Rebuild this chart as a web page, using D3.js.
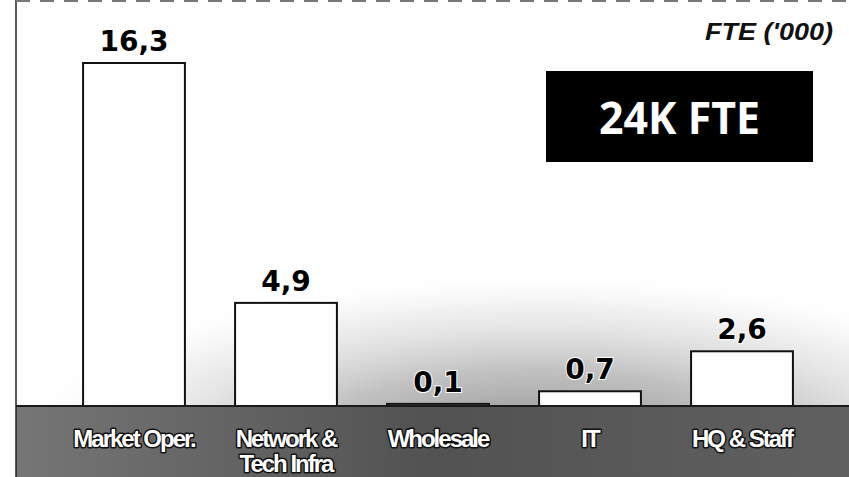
<!DOCTYPE html>
<html>
<head>
<meta charset="utf-8">
<script src="https://cdn.jsdelivr.net/npm/d3@7"></script>
<style>
  html, body { margin: 0; padding: 0; background: #fff; }
  svg { display: block; }
</style>
</head>
<body>
<svg id="chart" width="849" height="477"></svg>
<script>
// ---- data ----
const categories = ["Market Oper.", "Network & Tech Infra", "Wholesale", "IT", "HQ & Staff"];
const categoryLines = [["Market Oper."], ["Network &", "Tech Infra"], ["Wholesale"], ["IT"], ["HQ & Staff"]];
const values = [16.3, 4.9, 0.1, 0.7, 2.6];
const unitLabel = "FTE ('000)";
const totalLabel = "24K FTE";

// ---- layout ----
const W = 849, H = 477;
const baseY = 406, topY = 63;
const svg = d3.select("#chart");
const defs = svg.append("defs");

const x = d3.scaleBand().domain(categories).range([58, 818]).paddingInner(0.33).paddingOuter(0.165);
const y = d3.scaleLinear().domain([0, d3.max(values)]).range([baseY, topY]);
const fmt = v => d3.format(".1f")(v).replace(".", ",");

// scan-like grey shading (background texture approximation)
const rg = defs.append("radialGradient").attr("id", "shade")
  .attr("gradientUnits", "userSpaceOnUse").attr("cx", 540).attr("cy", 450).attr("r", 360)
  .attr("gradientTransform", "translate(540 450) scale(1.5 0.5) translate(-540 -450)");
rg.append("stop").attr("offset", "0%").attr("stop-color", "#777").attr("stop-opacity", 0.9);
rg.append("stop").attr("offset", "45%").attr("stop-color", "#999").attr("stop-opacity", 0.6);
rg.append("stop").attr("offset", "80%").attr("stop-color", "#d0d0d0").attr("stop-opacity", 0.3);
rg.append("stop").attr("offset", "100%").attr("stop-color", "#ffffff").attr("stop-opacity", 0);
svg.append("rect").attr("x", 16).attr("y", 200).attr("width", W - 16).attr("height", H - 200).attr("fill", "url(#shade)");

const lg = defs.append("linearGradient").attr("id", "strip").attr("x1", 0).attr("x2", 1).attr("y1", 0).attr("y2", 0);
lg.append("stop").attr("offset", "0%").attr("stop-color", "#767676");
lg.append("stop").attr("offset", "50%").attr("stop-color", "#525252");
lg.append("stop").attr("offset", "100%").attr("stop-color", "#606060");
svg.append("rect").attr("x", 16).attr("y", baseY).attr("width", W - 16).attr("height", H - baseY).attr("fill", "url(#strip)");

// frame lines
svg.append("line").attr("x1", 16).attr("x2", 16).attr("y1", 0).attr("y2", H)
  .attr("stroke", "#222").attr("stroke-width", 1.5);
svg.append("line").attr("x1", 16).attr("x2", W).attr("y1", 1).attr("y2", 1)
  .attr("stroke", "#777").attr("stroke-width", 2).attr("stroke-dasharray", "14,10");

// bars
svg.append("g").selectAll("rect").data(values).join("rect")
  .attr("x", (d, i) => x(categories[i]))
  .attr("y", d => y(d))
  .attr("width", x.bandwidth())
  .attr("height", d => baseY - y(d))
  .attr("fill", "#fff").attr("stroke", "#111").attr("stroke-width", 2);

// baseline
svg.append("line").attr("x1", 16).attr("x2", W).attr("y1", baseY).attr("y2", baseY)
  .attr("stroke", "#1a1a1a").attr("stroke-width", 2);

// value labels
svg.append("g").selectAll("text").data(values).join("text")
  .attr("x", (d, i) => x(categories[i]) + x.bandwidth() / 2)
  .attr("y", d => y(d) - 12)
  .attr("text-anchor", "middle")
  .attr("font-family", "'DejaVu Sans', sans-serif")
  .attr("font-weight", "bold").attr("font-size", 28)
  .attr("fill", "#000").attr("stroke", "#fff").attr("stroke-width", 2).attr("paint-order", "stroke")
  .text(d => fmt(d));

// category labels
const cat = svg.append("g").selectAll("text").data(categoryLines).join("text")
  .attr("x", (d, i) => x(categories[i]) + x.bandwidth() / 2)
  .attr("y", 447)
  .attr("text-anchor", "middle")
  .attr("font-family", "'Liberation Sans', sans-serif")
  .attr("letter-spacing", -2)
  .attr("font-weight", "bold").attr("font-size", 24)
  .attr("fill", "#fff").attr("stroke", "#111").attr("stroke-width", 3).attr("paint-order", "stroke")
  .attr("stroke-linejoin", "round");
cat.selectAll("tspan").data(d => d).join("tspan")
  .attr("x", function() { return d3.select(this.parentNode).attr("x"); })
  .attr("dy", (d, j) => j === 0 ? 0 : 25)
  .text(d => d);

// unit label
svg.append("text").attr("x", 833).attr("y", 40).attr("text-anchor", "end")
  .attr("font-family", "'Liberation Sans', sans-serif")
  .attr("font-style", "italic").attr("font-weight", "bold").attr("font-size", 24)
  .attr("textLength", 128).attr("lengthAdjust", "spacingAndGlyphs")
  .attr("fill", "#111").text(unitLabel);

// total box
svg.append("rect").attr("x", 546).attr("y", 71).attr("width", 267).attr("height", 91).attr("fill", "#000");
svg.append("text").attr("x", 679.5).attr("y", 134).attr("text-anchor", "middle")
  .attr("font-family", "'Open Sans', sans-serif").attr("font-weight", "bold").attr("font-size", 44)
  .attr("textLength", 161).attr("lengthAdjust", "spacingAndGlyphs")
  .attr("fill", "#fff").text(totalLabel);
</script>
</body>
</html>
